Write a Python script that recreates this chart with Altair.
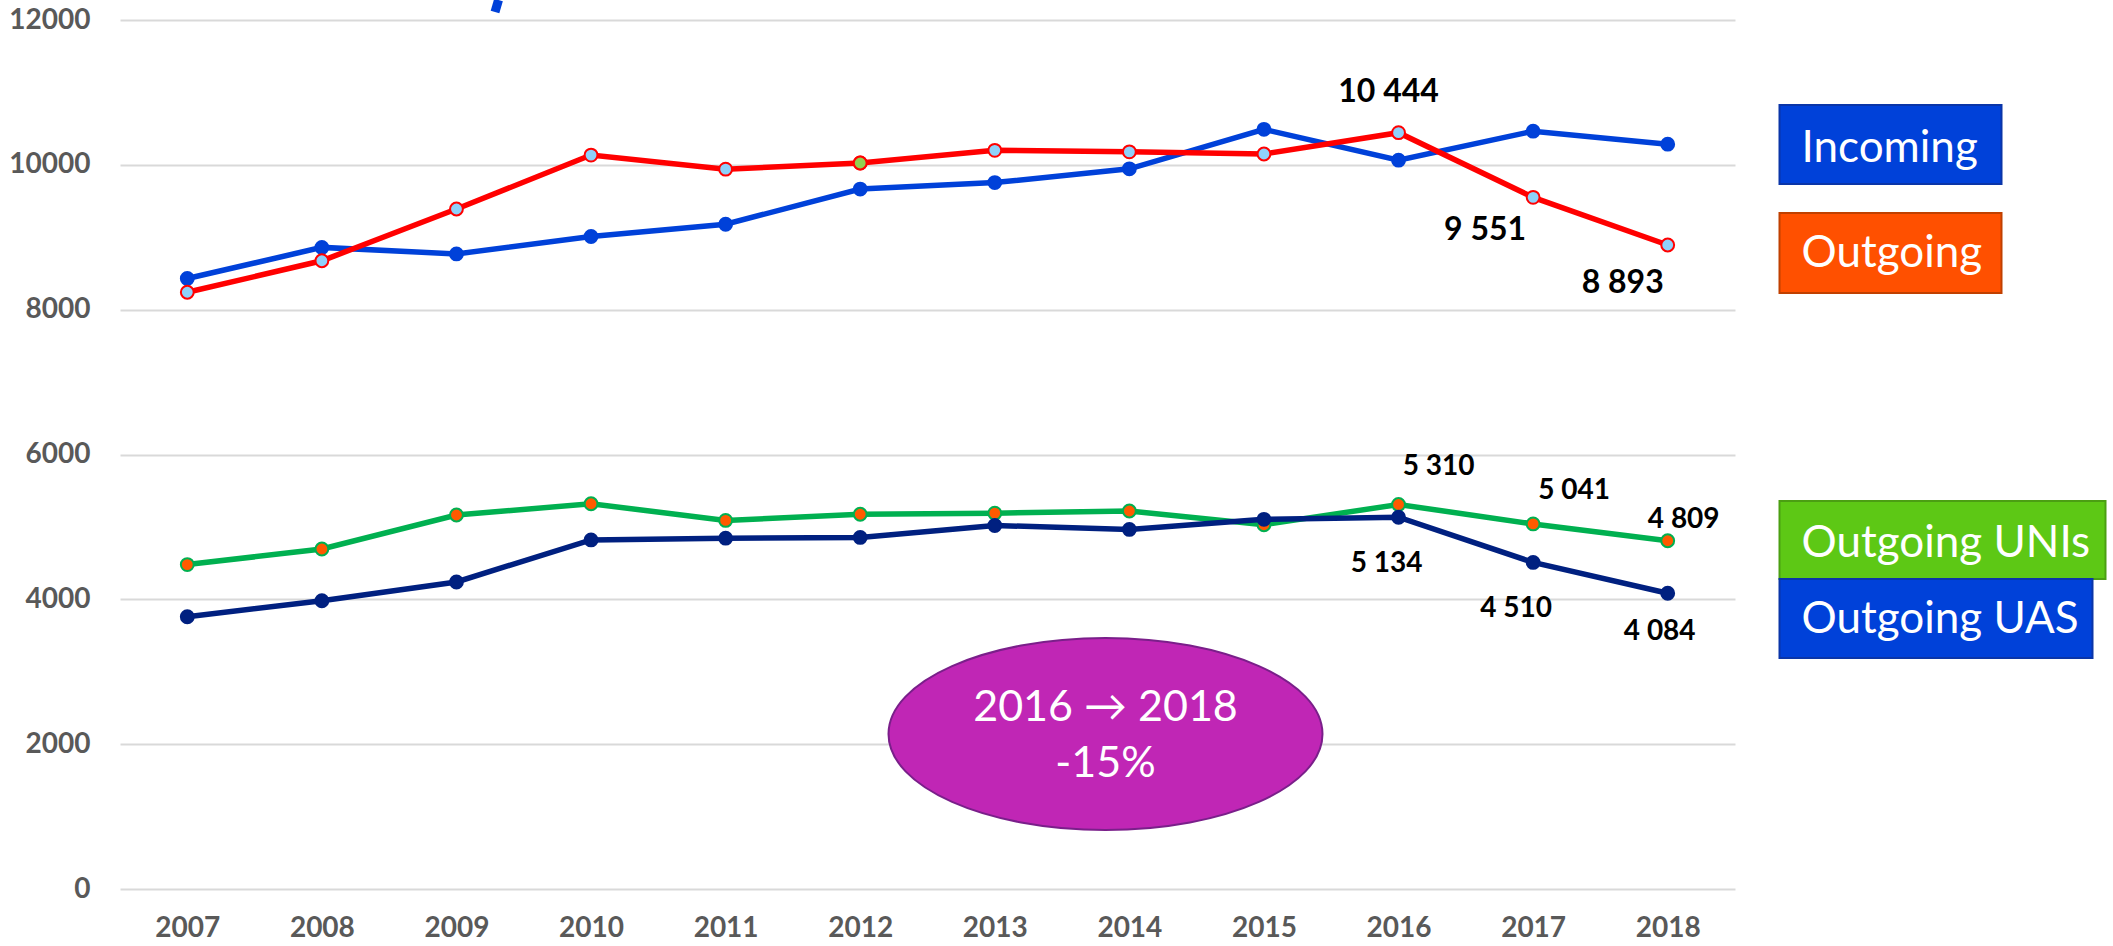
import altair as alt
import pandas as pd

# ---------------- data ----------------
YEARS = [str(y) for y in range(2007, 2019)]
SERIES = ["Incoming", "Outgoing", "Outgoing UNIs", "Outgoing UAS"]
INCOMING = [8430, 8860, 8770, 9010, 9180, 9665, 9755, 9945, 10490, 10065, 10465, 10285]
OUTGOING = [8240, 8675, 9390, 10135, 9940, 10025, 10200, 10180, 10150, 10444, 9551, 8893]
OUT_UNIS = [4480, 4695, 5165, 5320, 5090, 5175, 5190, 5220, 5030, 5310, 5041, 4809]
OUT_UAS = [3760, 3980, 4240, 4820, 4845, 4855, 5020, 4965, 5105, 5134, 4510, 4084]
Y_TICKS = [0, 2000, 4000, 6000, 8000, 10000, 12000]

rows = []
for name, vals in zip(SERIES, [INCOMING, OUTGOING, OUT_UNIS, OUT_UAS]):
    for yr, v in zip(YEARS, vals):
        rows.append({"year": yr, "series": name, "value": v})
df = pd.DataFrame(rows)

# ---------------- style ----------------
FONT = "Lato"
LINE_COL = {"Incoming": "#0041d9", "Outgoing": "#ff0000",
            "Outgoing UNIs": "#00b050", "Outgoing UAS": "#002080"}
PT_FILL = {"Incoming": "#0041d9", "Outgoing": "#8fd1fa",
           "Outgoing UNIs": "#ff5a00", "Outgoing UAS": "#002080"}
PT_STROKE = {"Incoming": "#0041d9", "Outgoing": "#ff0000",
             "Outgoing UNIs": "#00b050", "Outgoing UAS": "#002080"}

W, H = 1615, 869
x_enc = alt.X("year:O", scale=alt.Scale(type="point", padding=0.5),
              axis=alt.Axis(title=None, labelAngle=0, labelFont=FONT, labelFontSize=28,
                            labelFontWeight="bold", labelColor="#595959", labelPadding=25,
                            domain=False, ticks=False, grid=False))
y_enc = alt.Y("value:Q", scale=alt.Scale(domain=[0, 12000], nice=False, zero=True),
              axis=alt.Axis(title=None, values=Y_TICKS, format="d", labelFont=FONT,
                            labelFontSize=28, labelFontWeight="bold", labelColor="#595959",
                            labelPadding=30, domain=False, ticks=False,
                            gridColor="#d9d9d9", gridWidth=2))

base = alt.Chart(df).encode(x=x_enc, y=y_enc)

layers = []
for s in SERIES:
    f = alt.datum.series == s
    layers.append(base.transform_filter(f).mark_line(color=LINE_COL[s], strokeWidth=5.5))
    layers.append(base.transform_filter(f).mark_point(
        filled=True, fill=PT_FILL[s], stroke=PT_STROKE[s], strokeWidth=2,
        size=165, opacity=1, shape="circle"))
    if s == "Outgoing":
        layers.append(base.transform_filter(
            (alt.datum.series == s) & (alt.datum.year == "2012")).mark_point(
            filled=True, fill="#92d050", stroke="#ff0000", strokeWidth=2,
            size=165, opacity=1, shape="circle"))

# value labels (offsets relative to the data point, in pixels)
LABEL_STYLE = {
    ("Outgoing", "2016"): (-10, -41, 32), ("Outgoing", "2017"): (-48, 33, 32),
    ("Outgoing", "2018"): (-45, 38, 32),
    ("Outgoing UNIs", "2016"): (40, -37, 28), ("Outgoing UNIs", "2017"): (41, -33, 28),
    ("Outgoing UNIs", "2018"): (16, -21, 28),
    ("Outgoing UAS", "2016"): (-12, 47, 28), ("Outgoing UAS", "2017"): (-17, 47, 28),
    ("Outgoing UAS", "2018"): (-8, 39, 28),
}
for (s, yr), (dx, dy, fs) in LABEL_STYLE.items():
    layers.append(
        base.transform_filter((alt.datum.series == s) & (alt.datum.year == yr))
        .transform_calculate(lbl="replace(format(datum.value, ','), ',', ' ')")
        .mark_text(font=FONT, fontWeight="bold", fontSize=fs, color="#000000",
                   align="center", baseline="middle", dx=dx, dy=dy)
        .encode(text="lbl:N"))

one = alt.Data(values=[{"k": 1}])

# ellipse annotation
RX, RY = 217, 96
ell_path = f"M -1 0 A 1 {RY/RX:.4f} 0 1 0 1 0 A 1 {RY/RX:.4f} 0 1 0 -1 0 Z"
layers.append(alt.Chart(one).mark_point(
    shape=ell_path, size=(2 * RX) ** 2, filled=True, fill="#c026b5", stroke="#7a1f8a",
    strokeWidth=2, opacity=1).encode(x=alt.value(985.5), y=alt.value(714)))
layers.append(alt.Chart(one).mark_text(
    text="2016 \u2192 2018", font=FONT, fontSize=43, color="white", align="center",
    baseline="middle").encode(x=alt.value(985.5), y=alt.value(688)))
layers.append(alt.Chart(one).mark_text(
    text="-15%", font=FONT, fontSize=43, color="white", align="center",
    baseline="middle").encode(x=alt.value(985.5), y=alt.value(744)))

# legend boxes (drawn as annotations to the right of the plot)
BOXES = [
    ("Incoming", "#0041d9", "#0a35a8", 1659.5, 1881.5, 85, 164, 142),
    ("Outgoing", "#ff5000", "#c04000", 1659.5, 1881.5, 193, 273, 247),
    ("Outgoing UNIs", "#5dc815", "#4b9f12", 1659.5, 1985.5, 481, 559, 537),
    ("Outgoing UAS", "#0041d9", "#0a35a8", 1659.5, 1972.5, 559, 638, 613),
]
for label, fill, edge, x1, x2, y1, y2, base_y in BOXES:
    layers.append(alt.Chart(one).mark_rect(fill=fill, stroke=edge, strokeWidth=2).encode(
        x=alt.value(x1), x2=alt.value(x2), y=alt.value(y1), y2=alt.value(y2)))
    layers.append(alt.Chart(one).mark_text(
        text=label, font=FONT, fontSize=44, color="white", align="left",
        baseline="alphabetic").encode(x=alt.value(1681.5), y=alt.value(base_y)))

# fragment of a cut-off title at the top edge
layers.append(alt.Chart(one).mark_rule(color="#0041d9", strokeWidth=9).encode(
    x=alt.value(378.5), x2=alt.value(375), y=alt.value(-20), y2=alt.value(-8)))

chart = alt.layer(*layers).properties(
    width=W, height=H,
    autosize=alt.AutoSizeParams(type="none"),
    padding={"left": 120, "top": 20, "right": 378, "bottom": 57},
    background="white",
).configure_view(stroke=None)

chart.save("out.html", embed_options={"renderer": "svg", "actions": False})
